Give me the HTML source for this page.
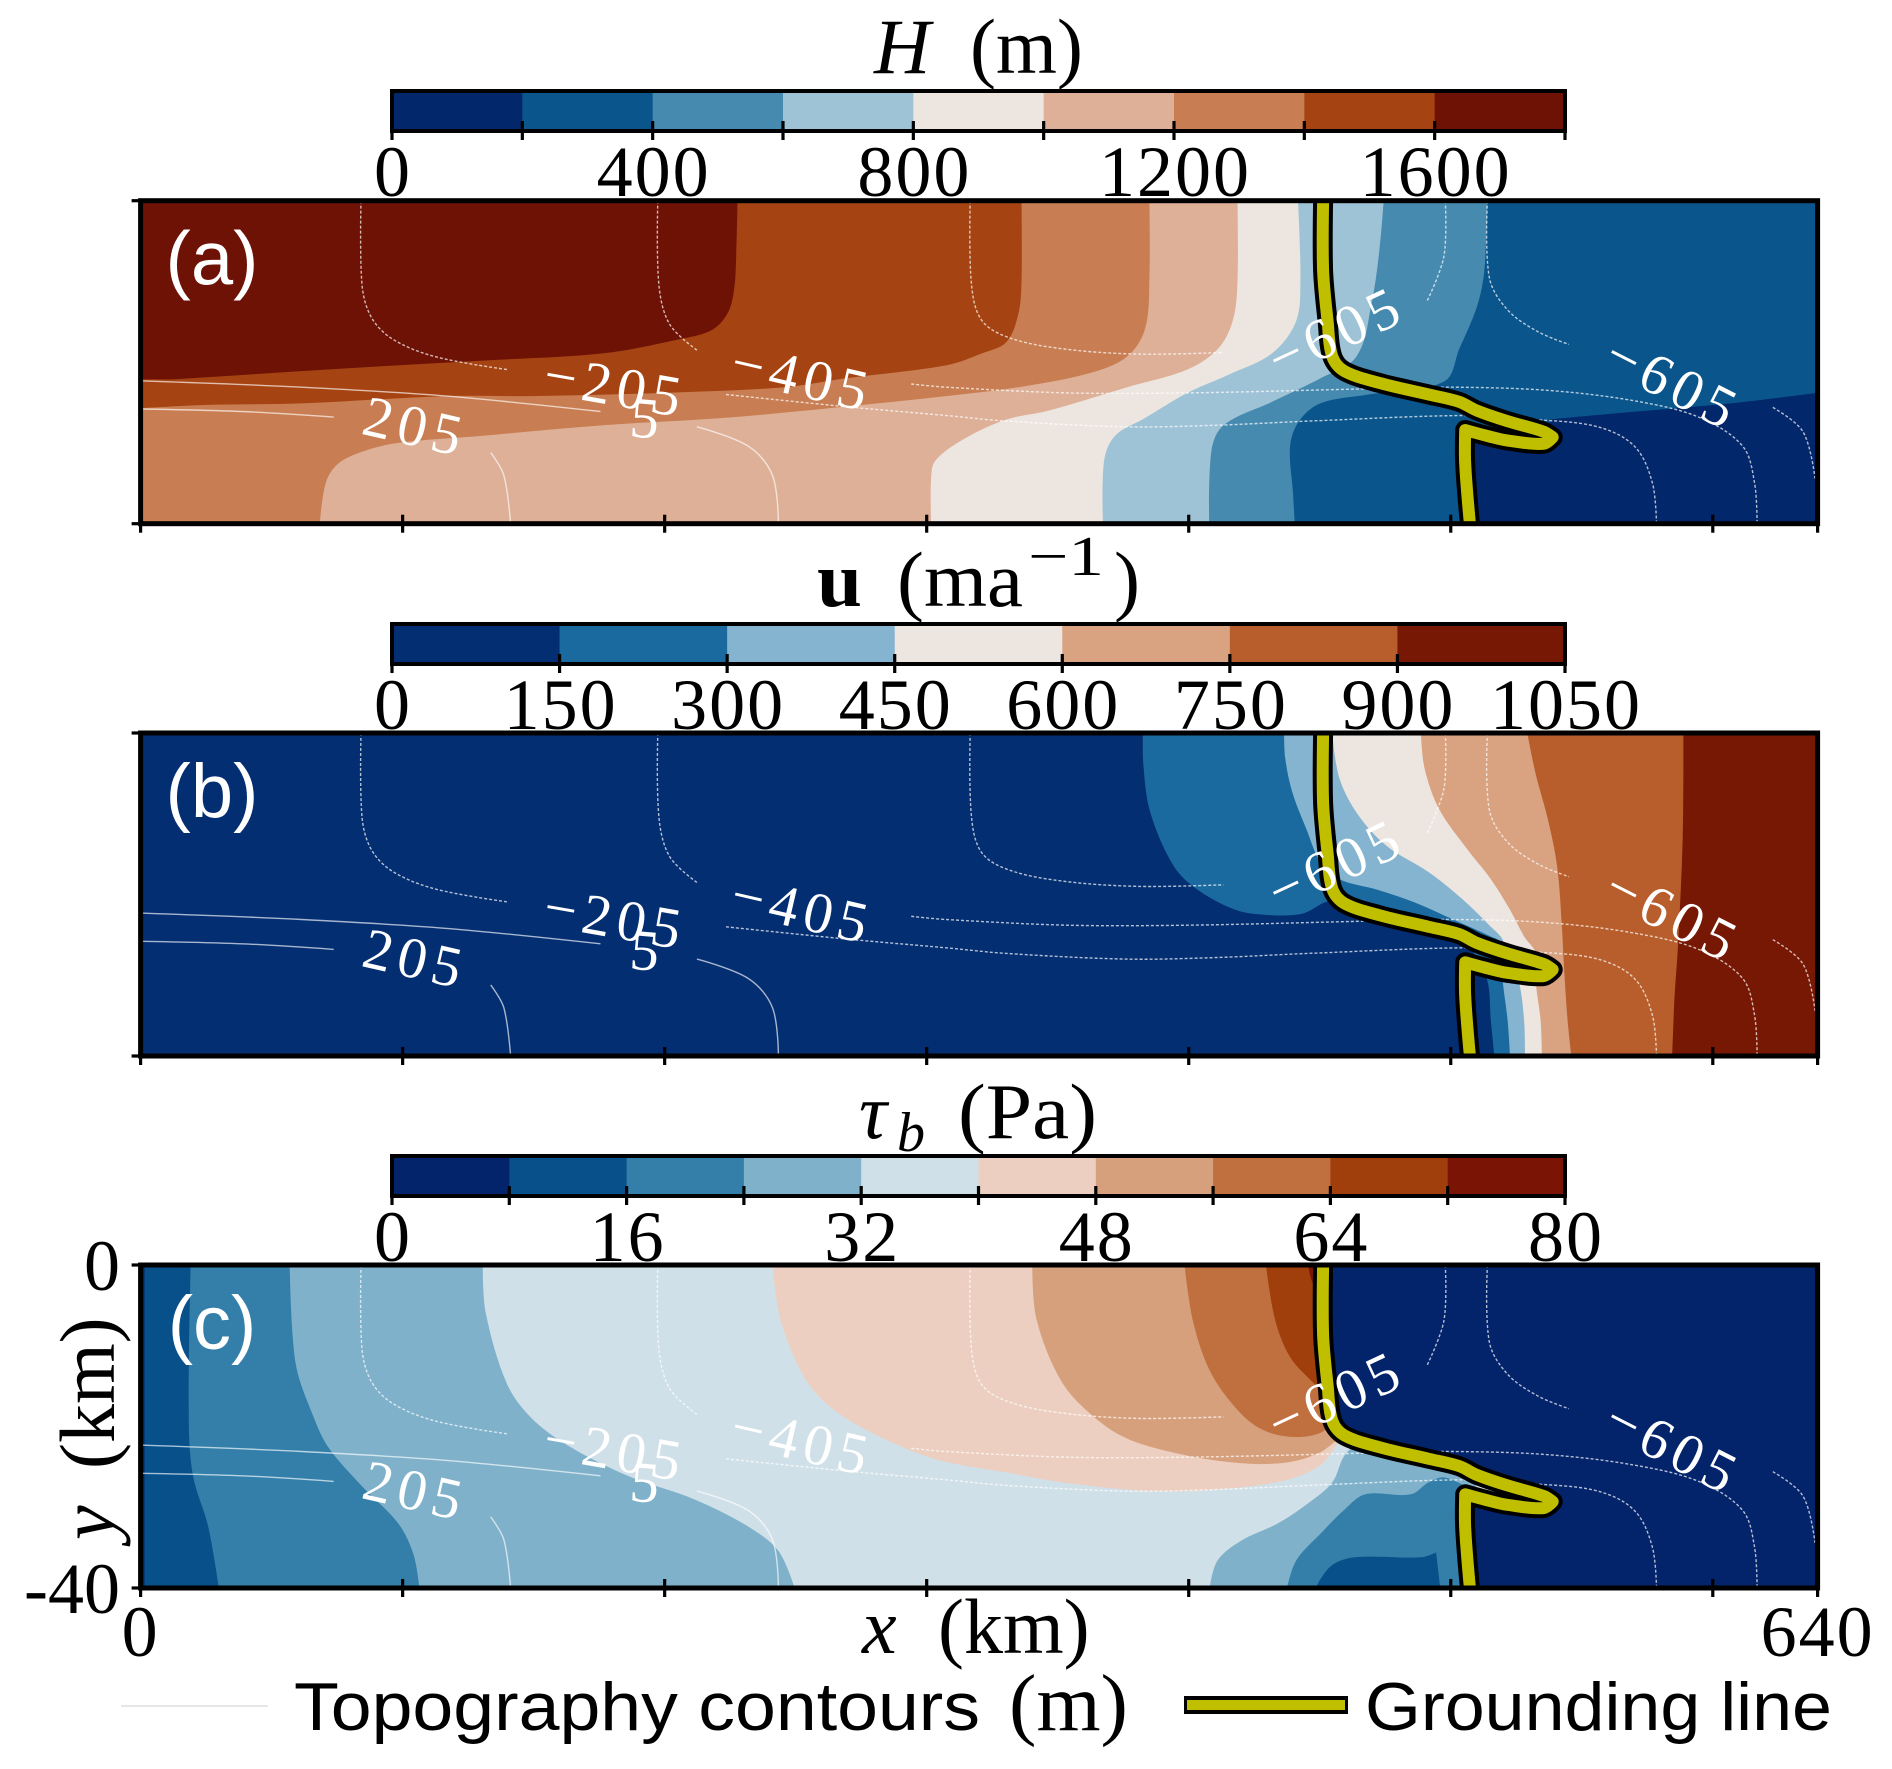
<!DOCTYPE html>
<html>
<head>
<meta charset="utf-8">
<title>Ice sheet fields</title>
<style>
html,body{margin:0;padding:0;background:#fff;}
svg{display:block;}
text{font-family:"Liberation Serif",serif;fill:#000;}
.sans{font-family:"Liberation Sans",sans-serif;}
</style>
</head>
<body>
<svg id="chart" xmlns="http://www.w3.org/2000/svg" width="1892" height="1769" viewBox="0 0 1892 1769">
  <rect x="0" y="0" width="1892" height="1769" fill="#fff"/>
  <defs id="defs"></defs>
  <g id="plots"></g>

  <g font-size="78">
    <text x="874" y="73" font-style="italic">H</text>
    <text x="970" y="73" textLength="113" lengthAdjust="spacingAndGlyphs">(m)</text>
  </g>
  <g font-size="78">
    <text x="817" y="606" font-weight="bold" textLength="45" lengthAdjust="spacingAndGlyphs">u</text>
    <text x="897" y="606" textLength="126" lengthAdjust="spacingAndGlyphs">(ma</text>
    <text x="1028" y="575" font-size="56" textLength="76" lengthAdjust="spacingAndGlyphs">−1</text>
    <text x="1114" y="606">)</text>
  </g>
  <g font-size="78">
    <text x="859" y="1138" font-style="italic">τ</text>
    <text x="897" y="1151" font-size="56" font-style="italic">b</text>
    <text x="958" y="1138" textLength="139" lengthAdjust="spacingAndGlyphs">(Pa)</text>
  </g>

  <text x="862" y="1653" font-size="78" font-style="italic">x</text>
  <text x="938" y="1653" font-size="78">(km)</text>
  <text transform="translate(114 1540) rotate(-90)" font-size="78" font-style="italic">y</text>
  <text transform="translate(114 1469) rotate(-90)" font-size="78">(km)</text>

  <g>
    <line x1="121" y1="1706" x2="268" y2="1706" stroke="#e6e6e6" stroke-width="2"/>
    <text class="sans" x="294" y="1730" font-size="68" textLength="686" lengthAdjust="spacingAndGlyphs">Topography contours</text>
    <text x="1009" y="1730" font-size="80" textLength="119" lengthAdjust="spacingAndGlyphs">(m)</text>
    <line x1="1184" y1="1705" x2="1348" y2="1705" stroke="#000" stroke-width="18"/>
    <line x1="1187" y1="1705" x2="1345" y2="1705" stroke="#bfbf00" stroke-width="10"/>
    <text class="sans" x="1365" y="1730" font-size="68" textLength="467" lengthAdjust="spacingAndGlyphs">Grounding line</text>
  </g>
</svg>

<script>
// ---------- colour levels ----------
const thicknessColors = ["#03276b","#09558c","#478ab0","#9fc3d6","#ede6e0","#deb097","#c87e52","#a54412","#6f1206"];
const velocityColors = ["#032e72","#1a6aa0","#84b4cf","#ede6e0","#d9a280","#b85e2c","#761804"];
const stressColors = ["#03246b","#07508a","#337faa","#7fb1cb","#d0e0e8","#eccfc0","#d7a07c","#c0703f","#a03f0b","#7a1405"];

// ---------- colour bar levels and tick labels ----------
const thicknessLevels = [0,200,400,600,800,1000,1200,1400,1600,1800];
const thicknessTickLabels = [0,400,800,1200,1600];
const velocityLevels = [0,150,300,450,600,750,900,1050];
const velocityTickLabels = [0,150,300,450,600,750,900,1050];
const stressLevels = [0,8,16,24,32,40,48,56,64,72,80];
const stressTickLabels = [0,16,32,48,64,80];

// ---------- axis ticks ----------
const xTicks = [0,100,200,300,400,500,600,640];
const xTickLabels = [0,640];
const yTicks = [0,-40];
const yTickLabels = ["0","-40"];

// ---------- contour-level boundaries, [x km, y km] ----------
// close: "right" fills everything to the right of the curve, "top" closes up to y=0, "self" closes the outline itself
const thicknessBoundaries = [
 {level:7,close:"right",pts:[[227.8,0],[227.3,-6.9],[226.4,-11.3],[223.9,-14],[218.1,-16],[206.6,-17.1],[176.6,-18.9],[130.6,-19.8],[102.9,-20.3],[61.5,-21.1],[13.1,-22.1],[0,-22.1]]},
 {level:6,close:"right",pts:[[336.2,0],[336.2,-10],[335,-14],[330.4,-17.5],[321.2,-18.9],[307.4,-20.4],[268.8,-22],[245.7,-23.1],[199.7,-23.8],[149,-24.2],[116.8,-24.2],[61.5,-25.1],[24.6,-25.3],[0,-25.7]]},
 {level:5,close:"right",pts:[[385,0],[385,-9.5],[383.4,-15.8],[376.5,-19.3],[362.7,-21.3],[335,-23.1],[307.4,-24.2],[268.8,-25.5],[222.7,-26.9],[176.6,-27.8],[130.6,-29.1],[98.3,-30],[84.5,-31.1],[75.3,-32.6],[70.7,-34.9],[68.4,-40]]},
 {level:4,close:"right",pts:[[418.6,0],[418.6,-10],[416.8,-14.9],[411,-18.4],[399.5,-20.9],[376.5,-23.1],[346.5,-26],[330.4,-27.1],[314.3,-29.5],[303.3,-32.2],[301.7,-34.4],[301.7,-40]]},
 {level:3,close:"right",pts:[[441.7,0],[442.6,-9.5],[441,-14.9],[431.8,-18.9],[415.6,-21.5],[399.5,-23.8],[383.4,-26.9],[371.9,-29.1],[367.7,-32.2],[367.3,-40]]},
 {level:2,close:"right",pts:[[474.4,0],[472.8,-6],[469.8,-12.7],[464,-19.3],[450.2,-22],[431.8,-24.9],[413.3,-27.8],[408.7,-30.9],[407.8,-40]]},
 {level:1,close:"right",pts:[[514,0],[512.8,-8.7],[510,-13.1],[503.2,-18.4],[497.4,-22.4],[468.6,-24],[450.2,-25.1],[442.1,-27.3],[438.7,-30.4],[439.8,-36.2],[440.5,-40]]},
 {level:0,close:"right",pts:[[640,-23.8],[606.8,-25.1],[560.7,-26.4],[537.7,-27.1],[537.7,-28.6],[507.8,-28.6],[505.9,-32.6],[507.8,-40]]}
];
const velocityBoundaries = [
 {level:1,close:"right",pts:[[382.5,0],[382.7,-4],[385.3,-9.8],[394.3,-16.5],[403.4,-19.4],[417.8,-21.9],[428.6,-22.5],[443.1,-22.4],[453.9,-20.8],[464.8,-21.5],[484.6,-23.1],[500.9,-24],[508.1,-26.9],[513.9,-30.6],[515.3,-35.6],[516.6,-40]]},
 {level:2,close:"right",pts:[[436.4,0],[436.8,-3.1],[439.5,-7.3],[444.9,-11.9],[450.3,-16],[457.5,-18.1],[472,-19.4],[486.4,-21],[500.9,-23.1],[515.3,-25.2],[519,-26],[519.8,-30.6],[521.7,-35.6],[522.6,-40]]},
 {level:3,close:"right",pts:[[454.8,0],[457.5,-5.6],[464.8,-10.2],[475.6,-14],[491.9,-17.3],[504.5,-20.6],[515.3,-24],[519.8,-25.6],[525.8,-30.6],[528,-35.6],[528.3,-40]]},
 {level:4,close:"right",pts:[[488.6,0],[490,-4.4],[495.5,-9.4],[506.3,-14.4],[515.3,-18.1],[522.6,-21.9],[528,-25.2],[532.5,-27.3],[532.5,-31],[534.3,-35.6],[534.8,-40]]},
 {level:5,close:"right",pts:[[529.2,0],[532.5,-5.2],[537,-10.6],[540.6,-16.5],[542.4,-24],[543.3,-29.4],[544.6,-35.6],[546,-40]]},
 {level:6,close:"right",pts:[[588.8,0],[588.5,-13.1],[586.7,-26.5],[585.4,-32.7],[584.5,-40]]}
];
const stressBoundaries = [
 {level:1,close:"right",pts:[[1.5,0],[1.5,-40]]},
 {level:2,close:"right",pts:[[19.1,0],[18.4,-19.4],[20,-26.1],[25.8,-32.4],[29.9,-40]]},
 {level:3,close:"right",pts:[[56.9,0],[59.2,-12.2],[66.1,-18.9],[71.9,-22.7],[84.5,-27.4],[98.3,-32],[104.1,-35.8],[106.4,-40]]},
 {level:4,close:"right",pts:[[130.6,0],[131.7,-5.9],[139.8,-14.7],[149,-18.9],[162.8,-22.3],[185.9,-26.1],[211.2,-29],[231.9,-32.4],[243.4,-35.4],[249.6,-40]]},
 {level:5,close:"top",pts:[[241.1,0],[244.6,-7.2],[254.9,-14.7],[268.8,-18.9],[291.8,-22.7],[307.4,-24.4],[330.4,-25.7],[353.5,-27],[385.7,-28],[411,-27.8],[436.4,-26.7],[450.2,-24.8],[457.1,-21.9]]},
 {level:6,close:"top",pts:[[340.3,0],[341.9,-6.7],[351.2,-14.3],[362.7,-18.5],[376.5,-21.5],[399.5,-23.6],[422.6,-24.6],[438.7,-24.4],[450.2,-23.2],[457.1,-21.5]]},
 {level:7,close:"top",pts:[[398.4,0],[401.8,-7.2],[408.7,-13.5],[420.2,-18.5],[429.5,-20.6],[441,-21.3],[450.2,-20.8],[454.8,-19.6]]},
 {level:8,close:"top",pts:[[429.5,0],[432.9,-6.7],[438.7,-11.4],[447.9,-14.7],[452,-16]]},
 {level:9,close:"top",pts:[[445.6,0],[447,-2],[449.5,-3.2],[452,-4]]},
 {level:3,close:"self",pts:[[408,-40],[411,-36.6],[420.2,-34.1],[434,-32],[445.6,-29.5],[454.8,-26.9],[459.4,-23.6],[464,-22.5],[490,-23.5],[505,-25],[510,-28],[510,-40]]},
 {level:2,close:"self",pts:[[437.5,-40],[441,-36.6],[450.2,-33.3],[459.4,-30.3],[467.4,-28.4],[484.7,-28.4],[491.6,-26.9],[497.4,-26.3],[505.5,-27.4],[505.5,-40]]},
 {level:1,close:"self",pts:[[448.4,-40],[454.2,-37.3],[463.4,-36.2],[488.7,-36.2],[494.4,-35.6],[496,-40]]}
];

// ---------- grounding line, [x km, y km] ----------
const groundingLine = [[451.3,0],[451.3,-8.7],[453,-14.9],[454.8,-19.3],[459.4,-21.1],[473.2,-22.6],[491.6,-24],[503.2,-24.9],[510,-26],[521.6,-27.3],[535.4,-28.6],[538.9,-29.3],[535.4,-30.1],[521.6,-29.7],[514.7,-29.2],[505.5,-28.4],[505.5,-32.6],[507.3,-40]];

// ---------- topography contours, [x km, y km] ----------
const solidContours = [
 [[0,-22.3],[61.5,-23.1],[116.8,-24.2],[175.5,-26.1]],
 [[0,-25.8],[38.5,-26.1],[73.7,-26.8]],
 [[133.6,-31.2],[138.6,-34],[141.2,-40]],
 [[212.3,-28],[231.9,-30.4],[241.1,-34],[243.4,-40]]
];
const dashedContours = [
 [[84.1,0],[84.5,-10.4],[88,-14.4],[96,-17.1],[112.2,-19.3],[139.8,-20.9]],
 [[197.4,0],[197.8,-10.4],[201.9,-15.3],[212.3,-18.5]],
 [[223.4,-24],[268.8,-25.5],[307.4,-26.6],[330.4,-27.3],[376.5,-28],[411,-27.8],[445.6,-27.3],[505.5,-26.6],[531.9,-27.1],[556.1,-28],[570.1,-30.4],[576.9,-34.9],[578.5,-40]],
 [[294.1,-22.7],[307.4,-23.1],[353.5,-23.8],[399.5,-23.8],[468.6,-23.3],[500.8,-23.1],[537.7,-23.5],[572.2,-24.9],[595.3,-26.9],[611.4,-30.4],[615.9,-34.9],[616.9,-40]],
 [[316.6,0],[317.1,-10.4],[321.2,-14.9],[332.7,-17.1],[353.5,-18.4],[381.1,-19],[413.3,-18.8]],
 [[497.9,0],[497.4,-6.9],[491,-12.4]],
 [[514,0],[514.7,-9.5],[521.6,-13.5],[533.1,-16.2],[545.1,-17.8]],
 [[622.9,-25.6],[634.4,-28.6],[639,-34.4]]
];
const contourLabelText = ["205","−205","5","−405","−605","−605"];
const contourLabelX = [105.1,181.4,193.6,252.8,455.9,585.3];
const contourLabelY = [-27.7,-22.7,-26.7,-21.6,-16,-22.3];
const contourLabelAngle = [13,10,5,13,-25,27];

// ---------- axis functions ----------
const NS = "http://www.w3.org/2000/svg";
const plotLeft = 140.6, plotWidth = 1677, plotHeight = 323;
const xScale = km => plotLeft + km / 640 * plotWidth;
const yScale = (km, top) => top - km / 40 * plotHeight;
const plotsGroup = document.getElementById("plots");
const defsEl = document.getElementById("defs");

function make(tag, parent, props) {
  const el = document.createElementNS(NS, tag);
  for (const k in props) el.setAttribute(k, props[k]);
  parent.appendChild(el);
  return el;
}

// smooth curve through the data points; sharp turns stay corners
function curvePath(pts, top) {
  const P = pts.map(p => [xScale(p[0]), yScale(p[1], top)]);
  const n = P.length;
  const tang = P.map((p, i) => {
    if (i === 0 || i === n - 1) return [0, 0];
    const ax = p[0] - P[i-1][0], ay = p[1] - P[i-1][1];
    const bx = P[i+1][0] - p[0], by = P[i+1][1] - p[1];
    const la = Math.hypot(ax, ay) || 1, lb = Math.hypot(bx, by) || 1;
    const cos = (ax * bx + ay * by) / (la * lb);
    if (cos < 0.45) return [0, 0];
    const tx = P[i+1][0] - P[i-1][0], ty = P[i+1][1] - P[i-1][1];
    const l = Math.hypot(tx, ty) || 1;
    return [tx / l, ty / l];
  });
  let d = "M" + P[0][0].toFixed(1) + " " + P[0][1].toFixed(1);
  for (let i = 0; i < n - 1; i++) {
    const len = Math.hypot(P[i+1][0] - P[i][0], P[i+1][1] - P[i][1]) / 3;
    d += "C" + (P[i][0] + tang[i][0] * len).toFixed(1) + " " + (P[i][1] + tang[i][1] * len).toFixed(1) + " " +
         (P[i+1][0] - tang[i+1][0] * len).toFixed(1) + " " + (P[i+1][1] - tang[i+1][1] * len).toFixed(1) + " " +
         P[i+1][0].toFixed(1) + " " + P[i+1][1].toFixed(1);
  }
  return d;
}
function lineTo(pts, top) {
  return pts.map(p => "L" + xScale(p[0]).toFixed(1) + " " + yScale(p[1], top).toFixed(1)).join("");
}

function drawColorbar(parent, id, top, levels, colors, labels) {
  const left = 392, width = 1173, height = 40;
  const max = levels[levels.length - 1];
  const cx = v => left + v / max * width;
  const g = make("g", parent, {});
  
  
  colors.forEach((c, i) => {
    const r = make("rect", g, {x: cx(levels[i]), y: top, width: cx(levels[i + 1]) - cx(levels[i]) + 0.5, height: height, fill: c});
    
    
  });
  const frame = make("rect", g, {x: left, y: top, width: width, height: height, fill: "none", stroke: "#000", "stroke-width": 4});
  
  
  levels.forEach(v => {
    const t = make("line", g, {x1: cx(v), x2: cx(v), y1: top + 30, y2: top + 49, stroke: "#000", "stroke-width": 3.2});
    
    
  });
  labels.forEach(v => {
    const t = make("text", g, {x: cx(v) + 1, y: top + 105, "font-size": 72, "text-anchor": "middle", "letter-spacing": 2});
    t.textContent = v;
    
    
  });
}

function drawPanel(id, top, letter, colors, boundaries, baseLevel, floatingRight) {
  const clipId = "clip-" + id;
  const clip = make("clipPath", defsEl, {id: clipId});
  make("rect", clip, {x: plotLeft, y: top, width: plotWidth, height: plotHeight});

  const g = make("g", plotsGroup, {});
  
  

  const inner = make("g", g, {"clip-path": "url(#" + clipId + ")"});
  
  

  const base = make("rect", inner, {x: plotLeft, y: top, width: plotWidth, height: plotHeight, fill: colors[baseLevel]});
  
  

  boundaries.forEach(b => {
    const last = b.pts[b.pts.length - 1];
    let d = curvePath(b.pts, top);
    if (b.close === "right") d += lineTo([[last[0], -40], [640, -40], [640, 0]], top);
    if (b.close === "top") d += lineTo([[last[0], 0]], top);
    const poly = make("path", inner, {d: d + "Z", fill: colors[b.level]});
    
    
  });

  if (floatingRight) {
    const d = curvePath(groundingLine, top) + lineTo([[640, -40], [640, 0]], top) + "Z";
    const poly = make("path", inner, {d: d, fill: colors[0]});
    
    
  }

  solidContours.forEach(c => {
    const l = make("path", inner, {d: curvePath(c, top), fill: "none", stroke: "#fff", "stroke-opacity": 0.65, "stroke-width": 1.4});
    
    
  });
  dashedContours.forEach(c => {
    const l = make("path", inner, {d: curvePath(c, top), fill: "none", stroke: "#fff", "stroke-opacity": 0.7, "stroke-width": 1.4, "stroke-dasharray": "3 2"});
    
    
  });

  const glOuter = make("path", inner, {d: curvePath(groundingLine, top), fill: "none", stroke: "#000", "stroke-width": 20, "stroke-linejoin": "round"});
  
  
  const glInner = make("path", inner, {d: curvePath(groundingLine, top), fill: "none", stroke: "#bfbf00", "stroke-width": 12, "stroke-linejoin": "round"});
  
  

  contourLabelText.forEach((s, i) => {
    const x = xScale(contourLabelX[i]), y = yScale(contourLabelY[i], top);
    const t = make("text", g, {x: x, y: y + 2, "font-size": 58, "text-anchor": "middle", "dominant-baseline": "central", "letter-spacing": 6, transform: "rotate(" + contourLabelAngle[i] + " " + x + " " + y + ")"});
    t.style.fill = "#fff";
    t.textContent = s;
    
    
  });

  const lab = make("text", g, {x: 212, y: top + 84, "font-size": 76, "text-anchor": "middle", class: "sans"});
  lab.style.fill = "#fff";
  lab.textContent = "(" + letter + ")";
  
  

  const frame = make("rect", g, {x: plotLeft, y: top, width: plotWidth, height: plotHeight, fill: "none", stroke: "#000", "stroke-width": 5});
  
  

  xTicks.forEach(v => {
    const x = xScale(v);
    const t = make("line", g, {x1: x, x2: x, y1: top + plotHeight - 9, y2: top + plotHeight + 9, stroke: "#000", "stroke-width": 3.2});
    
    
  });
  yTicks.forEach(v => {
    const y = yScale(v, top);
    const t = make("line", g, {x1: plotLeft - 9, x2: plotLeft, y1: y, y2: y, stroke: "#000", "stroke-width": 3.2});
    
    
  });
}

const panelTops = [200.7, 733, 1265];
drawPanel("thickness", panelTops[0], "a", thicknessColors, thicknessBoundaries, 8, false);
drawPanel("velocity", panelTops[1], "b", velocityColors, velocityBoundaries, 0, false);
drawPanel("stress", panelTops[2], "c", stressColors, stressBoundaries, 0, true);

drawColorbar(plotsGroup, "thickness", 91, thicknessLevels, thicknessColors, thicknessTickLabels);
drawColorbar(plotsGroup, "velocity", 624, velocityLevels, velocityColors, velocityTickLabels);
drawColorbar(plotsGroup, "stress", 1156, stressLevels, stressColors, stressTickLabels);

xTickLabels.forEach(v => {
  const t = make("text", plotsGroup, {x: xScale(v), y: 1656, "font-size": 72, "text-anchor": "middle", "letter-spacing": 2});
  t.textContent = v;
  
  
});
yTickLabels.forEach((s, i) => {
  const y = yScale(yTicks[i], panelTops[2]);
  const t = make("text", plotsGroup, {x: 120, y: y + 25, "font-size": 72, "text-anchor": "end"});
  t.textContent = s;
  
  
});
</script>
</body>
</html>
